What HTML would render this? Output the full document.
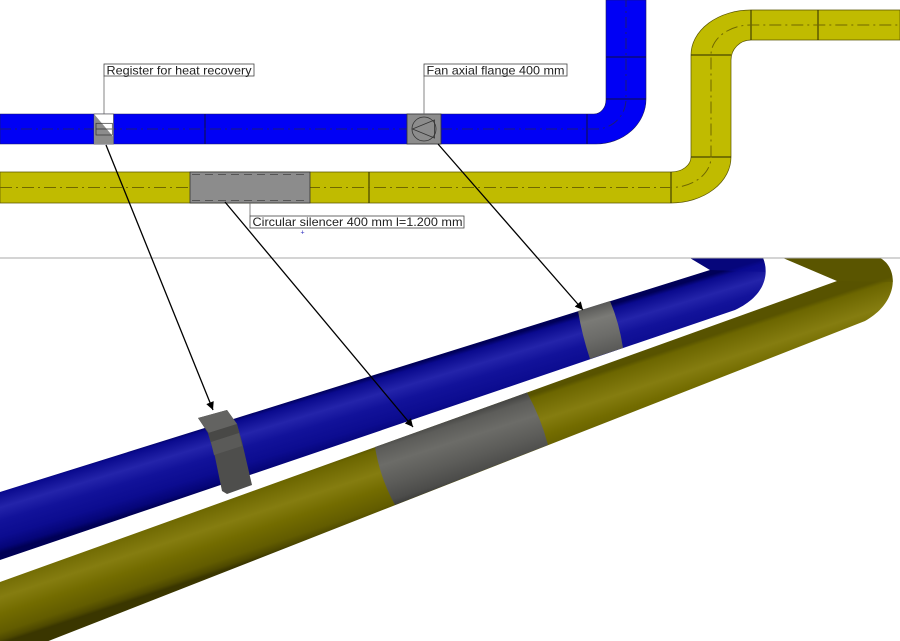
<!DOCTYPE html>
<html>
<head>
<meta charset="utf-8">
<style>
html,body{margin:0;padding:0;background:#fff;}
svg{display:block;}
text{font-family:"Liberation Sans",Arial,sans-serif;}
</style>
</head>
<body>
<svg width="900" height="641" viewBox="0 0 900 641" xmlns="http://www.w3.org/2000/svg">
<defs>
  <marker id="ah" viewBox="0 0 10 10" refX="10" refY="5" markerWidth="10" markerHeight="8" markerUnits="userSpaceOnUse" orient="auto">
    <path d="M0,0 L10,5 L0,10 Z" fill="#000"/>
  </marker>
  <clipPath id="c3d"><rect x="0" y="258.5" width="900" height="383"/></clipPath>
  <linearGradient id="gBlue" gradientUnits="userSpaceOnUse" x1="300" y1="398" x2="318" y2="458">
    <stop offset="0" stop-color="#000058"/>
    <stop offset="0.07" stop-color="#0a0a8e"/>
    <stop offset="0.3" stop-color="#2424aa"/>
    <stop offset="0.5" stop-color="#12129a"/>
    <stop offset="0.75" stop-color="#0c0c90"/>
    <stop offset="0.92" stop-color="#050578"/>
    <stop offset="1" stop-color="#000055"/>
  </linearGradient>
  <linearGradient id="gYel" gradientUnits="userSpaceOnUse" x1="400" y1="438" x2="422" y2="505">
    <stop offset="0" stop-color="#585300"/>
    <stop offset="0.06" stop-color="#6c6600"/>
    <stop offset="0.38" stop-color="#857d10"/>
    <stop offset="0.6" stop-color="#736c00"/>
    <stop offset="0.85" stop-color="#625c00"/>
    <stop offset="0.95" stop-color="#4e4900"/>
    <stop offset="1" stop-color="#3a3600"/>
  </linearGradient>
  <linearGradient id="gSil" gradientUnits="userSpaceOnUse" x1="460" y1="416" x2="480" y2="478">
    <stop offset="0" stop-color="#484846"/>
    <stop offset="0.1" stop-color="#5c5c59"/>
    <stop offset="0.35" stop-color="#6c6c68"/>
    <stop offset="0.65" stop-color="#5c5c59"/>
    <stop offset="0.9" stop-color="#4c4c4a"/>
    <stop offset="1" stop-color="#3c3c3a"/>
  </linearGradient>
  <linearGradient id="gFan" gradientUnits="userSpaceOnUse" x1="598" y1="305" x2="612" y2="355">
    <stop offset="0" stop-color="#5a5a58"/>
    <stop offset="0.25" stop-color="#7a7a76"/>
    <stop offset="0.6" stop-color="#6c6c69"/>
    <stop offset="1" stop-color="#555553"/>
  </linearGradient>
</defs>

<!-- ============ 2D plan ============ -->
<path d="M0,114 H594 A12,14 0 0 0 606,100 V0 H646 V99 A50,45 0 0 1 596,144 H0 Z" fill="#0000f5" stroke="#1a1a60" stroke-width="0.6"/>
<g stroke="#101040" stroke-width="1">
  <line x1="205" y1="114" x2="205" y2="144"/>
  <line x1="587" y1="114" x2="587" y2="144"/>
  <line x1="606" y1="99" x2="646" y2="99"/>
  <line x1="606" y1="57" x2="646" y2="57"/>
</g>
<path d="M0,129 H596 A30,30 0 0 0 626,99 V0" fill="none" stroke="#1c1c78" stroke-width="1" stroke-dasharray="11 4 2 4"/>

<path d="M0,172 H671 A20,15 0 0 0 691,157 V55 A60,45 0 0 1 751,10 H900 V40 H751 A20,20 0 0 0 731,60 V157 A60,46 0 0 1 671,203 H0 Z" fill="#c0bb00" stroke="#5a5500" stroke-width="0.7"/>
<g stroke="#2a2800" stroke-width="1">
  <line x1="369" y1="172" x2="369" y2="203"/>
  <line x1="671" y1="172" x2="671" y2="203"/>
  <line x1="691" y1="157" x2="731" y2="157"/>
  <line x1="691" y1="55" x2="731" y2="55"/>
  <line x1="751" y1="10" x2="751" y2="40"/>
  <line x1="818" y1="10" x2="818" y2="40"/>
</g>
<path d="M0,187.5 H671 A40,30.5 0 0 0 711,157 V55 A40,30 0 0 1 751,25 H900" fill="none" stroke="#6f6700" stroke-width="1" stroke-dasharray="12 4 2 4"/>

<rect x="190" y="172" width="120" height="31" fill="#8c8c8c" stroke="#333" stroke-width="0.8"/>
<line x1="192" y1="174.5" x2="308" y2="174.5" stroke="#555" stroke-width="1" stroke-dasharray="8 5"/>
<line x1="192" y1="200.5" x2="308" y2="200.5" stroke="#555" stroke-width="1" stroke-dasharray="8 5"/>

<rect x="94" y="114" width="19.5" height="30" fill="#fff" stroke="#444" stroke-width="0.6"/>
<path d="M94,114 L113.5,137 L113.5,144 L94,144 Z" fill="#8c8c8c"/>
<rect x="96" y="123.3" width="16.3" height="11.7" fill="none" stroke="#333" stroke-width="0.7"/>
<line x1="96" y1="129" x2="112.3" y2="129" stroke="#333" stroke-width="0.7"/>

<rect x="407" y="114" width="34" height="30" fill="#8c8c8c" stroke="#333" stroke-width="0.8"/>
<circle cx="424" cy="129" r="12" fill="none" stroke="#333" stroke-width="0.8"/>
<path d="M412.5,129 L434.5,120 L434.5,138 Z" fill="none" stroke="#333" stroke-width="0.8"/>

<line x1="104" y1="76" x2="104" y2="114" stroke="#666" stroke-width="0.8"/>
<rect x="104" y="64" width="150" height="12" fill="#fff" stroke="#444" stroke-width="0.8"/>
<text x="106.5" y="74.3" font-size="12" fill="#222" textLength="145" lengthAdjust="spacingAndGlyphs">Register for heat recovery</text>

<line x1="424" y1="76" x2="424" y2="114" stroke="#666" stroke-width="0.8"/>
<rect x="424" y="64" width="143" height="12" fill="#fff" stroke="#444" stroke-width="0.8"/>
<text x="426.5" y="74.3" font-size="12" fill="#222" textLength="138" lengthAdjust="spacingAndGlyphs">Fan axial flange 400 mm</text>

<line x1="250" y1="203" x2="250" y2="216" stroke="#666" stroke-width="0.8"/>
<rect x="250" y="216" width="214" height="12" fill="#fff" stroke="#444" stroke-width="0.8"/>
<text x="252.5" y="226" font-size="12" fill="#222" textLength="210" lengthAdjust="spacingAndGlyphs">Circular silencer 400 mm l=1.200 mm</text>

<text x="300.5" y="234.5" font-size="7" fill="#3030c0">+</text>

<line x1="0" y1="258" x2="900" y2="258" stroke="#a8a8a8" stroke-width="1"/>

<!-- ============ 3D view ============ -->
<g clip-path="url(#c3d)">
  <path d="M0,492 L710,270 L690,258 L763,258 C769,272 767,295 735,310 L0,560 Z" fill="url(#gBlue)"/>
  <path d="M690,258 L763,258 C765,264 766,268 765,272 L710,270 Z" fill="#0a0a92" opacity="0.6"/>
  <path d="M0,582 L837,281 L783,258 L880,258 C899,268 899,302 865,321 L0,660 Z" fill="url(#gYel)"/>
  <path d="M783,258 L880,258 C888,262 892,270 893,282 L837,281 Z" fill="#5e5900" opacity="0.45"/>
  <path d="M375,447 L527,392.5 Q541,418 548,445 L395,505 Q380,478 375,447 Z" fill="url(#gSil)"/>
  <path d="M578,311 L610,301 Q619,322 623,348 L590,359 Q582,335 578,311 Z" fill="url(#gFan)"/>
  <path d="M198,418 L227,410 L237,424 L242,442 L252,485 L227,494 L222,491 L215,457 L208,433 Z" fill="#4e4e4c"/>
  <path d="M198,418 L227,410 L237,424 L209,433 Z" fill="#636361"/>
  <path d="M208,433 L237,424 L239,433 L211,442 Z" fill="#484846"/>
  <path d="M211,442 L239,433 L242,446 L214,455 Z" fill="#5a5a58"/>
</g>

<g stroke="#000" stroke-width="1.3" fill="none">
  <line x1="106" y1="145" x2="213" y2="410" marker-end="url(#ah)"/>
  <line x1="225" y1="202" x2="413" y2="427" marker-end="url(#ah)"/>
  <line x1="438" y1="144" x2="583" y2="310" marker-end="url(#ah)"/>
</g>
</svg>
</body>
</html>
